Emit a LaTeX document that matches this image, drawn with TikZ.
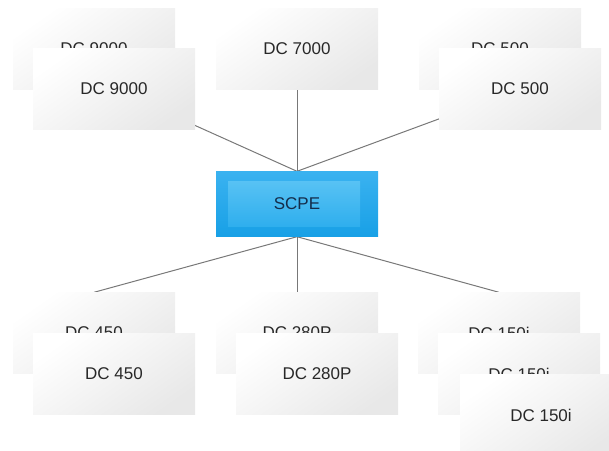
\documentclass[tikz,border=0pt]{standalone}
\usepackage{fontspec}
\setmainfont{Liberation Sans}
\usetikzlibrary{backgrounds}
\definecolor{linegray}{RGB}{120,120,120}
\definecolor{textgray}{RGB}{40,40,40}
\definecolor{scpeblue}{RGB}{24,160,230}
\definecolor{scpetop}{RGB}{58,178,240}
\definecolor{scpeinnertop}{RGB}{96,198,245}
\definecolor{scpeinner}{RGB}{38,170,236}
\definecolor{scpenavy}{RGB}{20,45,75}
\begin{document}
\begin{tikzpicture}[x=1pt,y=-1pt,
    dcbox/.style={rectangle, minimum width=162pt, minimum height=81pt, inner sep=0pt,
      shading=axis, top color=white, bottom color=black!9, shading angle=35,
      text=textgray, font=\fontsize{17}{20}\selectfont},
    scpebox/.style={rectangle, minimum width=162pt, minimum height=65pt, inner sep=0pt,
      top color=scpetop, bottom color=scpeblue, text=scpenavy,
      font=\fontsize{17}{20}\selectfont,
      path picture={\shade[top color=scpeinnertop, bottom color=scpeinner]
        ([shift={(12pt,-10pt)}]path picture bounding box.north west) rectangle
        ([shift={(-18pt,10pt)}]path picture bounding box.south east);}},
    link/.style={draw=linegray, line width=1pt}]
  \useasboundingbox (0,0) rectangle (609,450);
  \node[dcbox] (n9000b) at (94,49) {DC 9000};
  \node[dcbox] (n9000) at (114,89) {DC 9000};
  \node[dcbox] (n7000) at (297,49) {DC 7000};
  \node[dcbox] (n500b) at (500,49) {DC 500};
  \node[dcbox] (n500) at (520,89) {DC 500};
  \node[scpebox] (scpe) at (297,204) {SCPE};
  \node[dcbox] (n450b) at (94,333) {DC 450};
  \node[dcbox] (n450) at (114,374) {DC 450};
  \node[dcbox] (n280b) at (297,333) {DC 280P};
  \node[dcbox] (n280) at (317,374) {DC 280P};
  \node[dcbox] (n150b) at (499,333) {DC 150i};
  \node[dcbox] (n150m) at (519,374) {DC 150i};
  \node[dcbox] (n150) at (541,415) {DC 150i};
  \begin{scope}[on background layer]
    \draw[link] (scpe.north) -- (n9000.center);
    \draw[link] (scpe.north) -- (n7000.south);
    \draw[link] (scpe.north) -- (n500.center);
    \draw[link] (scpe.south) -- (n450b.north);
    \draw[link] (scpe.south) -- (n280b.north);
    \draw[link] (scpe.south) -- (n150b.north);
  \end{scope}
\end{tikzpicture}
\end{document}
